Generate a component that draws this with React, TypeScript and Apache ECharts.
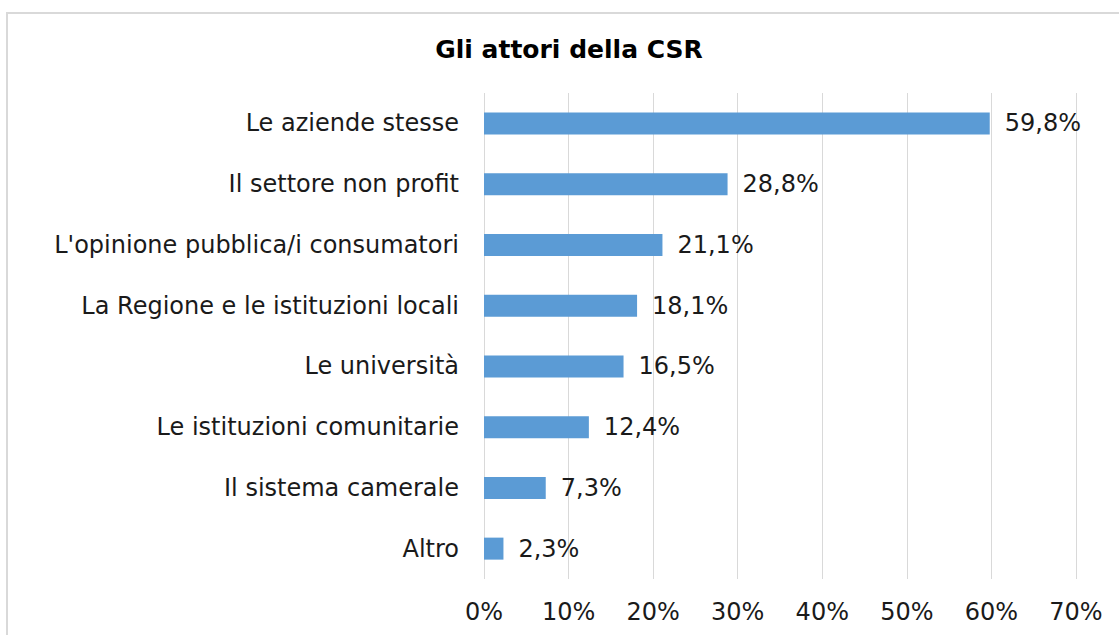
import React, { useEffect, useRef } from "react";
import * as echarts from "echarts";

const categories = [
  "Le aziende stesse",
  "Il settore non profit",
  "L'opinione pubblica/i consumatori",
  "La Regione e le istituzioni locali",
  "Le università",
  "Le istituzioni comunitarie",
  "Il sistema camerale",
  "Altro",
];
const values = [59.8, 28.8, 21.1, 18.1, 16.5, 12.4, 7.3, 2.3];
const xTicks = [0, 10, 20, 30, 40, 50, 60, 70];
const title = "Gli attori della CSR";

const FONT = "'DejaVu Sans', Verdana, sans-serif";

export default function App() {
  const ref = useRef<HTMLDivElement>(null);
  useEffect(() => {
    if (!ref.current) return;
    const chart = echarts.init(ref.current, undefined, { renderer: "svg" });
    chart.setOption({
      animation: false,
      backgroundColor: "#ffffff",
      textStyle: { fontFamily: FONT },
      graphic: [
        {
          type: "rect",
          shape: { x: 7, y: 13, width: 1140, height: 660 },
          style: { fill: "none", stroke: "#d9d9d9", lineWidth: 2 },
          silent: true,
        },
        {
          type: "text",
          x: 569,
          y: 49,
          style: {
            text: title,
            fontFamily: FONT,
            fontSize: 25,
            fontWeight: "bold",
            fill: "#000000",
            textAlign: "center",
            textVerticalAlign: "middle",
          },
        },
      ],
      grid: { left: 484, right: 43, top: 93, bottom: 56, containLabel: false },
      xAxis: {
        type: "value",
        min: xTicks[0],
        max: xTicks[xTicks.length - 1],
        interval: 10,
        axisLine: { show: false },
        axisTick: { show: false },
        splitLine: { show: true, lineStyle: { color: "#d9d9d9", width: 1 } },
        axisLabel: {
          formatter: (v: number) => `${v}%`,
          fontFamily: FONT,
          fontSize: 24,
          color: "#1a1a1a",
          margin: 21,
        },
      },
      yAxis: {
        type: "category",
        data: categories,
        inverse: true,
        axisLine: { show: false },
        axisTick: { show: false },
        axisLabel: {
          fontFamily: FONT,
          fontSize: 24,
          color: "#1a1a1a",
          margin: 25,
        },
      },
      series: [
        {
          type: "bar",
          data: values,
          barWidth: 22,
          itemStyle: { color: "#5b9bd5" },
          label: {
            show: true,
            position: "right",
            distance: 15,
            fontFamily: FONT,
            fontSize: 24,
            color: "#1a1a1a",
            formatter: (p: any) => `${p.value.toFixed(1).replace(".", ",")}%`,
          },
        },
      ],
    });
    return () => chart.dispose();
  }, []);
  return (
    <div
      ref={ref}
      style={{ position: "fixed", left: 0, top: 0, width: 1119, height: 635 }}
    />
  );
}
